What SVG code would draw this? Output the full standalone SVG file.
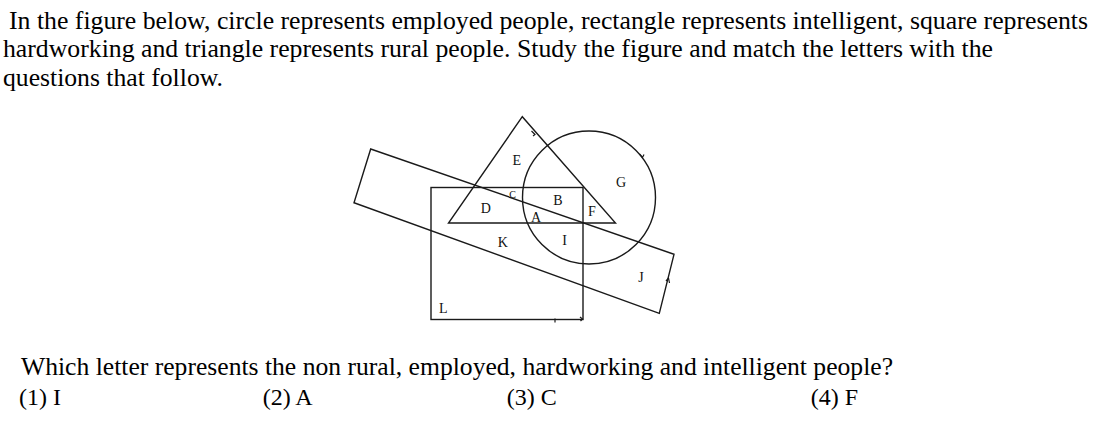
<svg xmlns="http://www.w3.org/2000/svg" width="1120" height="436" viewBox="0 0 1120 436">
<style>
text{font-family:'Liberation Serif','Times New Roman',Times,serif;fill:#000;}
.q{font-size:25.7px;}
.w{font-size:25.6px;}
.b{font-size:24px;}
.lbl{font-size:14px;fill:#111;text-anchor:middle;}
.sh{fill:none;stroke:#1a1a1a;stroke-width:1.4;}
.tk{fill:none;stroke:#1a1a1a;stroke-width:1.2;}
</style>
<rect width="1120" height="436" fill="#fff"/>
<g id="question">
<text class="q" x="9" y="29" textLength="1079" lengthAdjust="spacingAndGlyphs">In the figure below, circle represents employed people, rectangle represents intelligent, square represents</text>
<text class="q" x="3" y="57" textLength="990" lengthAdjust="spacingAndGlyphs">hardworking and triangle represents rural people. Study the figure and match the letters with the</text>
<text class="q" x="3" y="86" textLength="220" lengthAdjust="spacingAndGlyphs">questions that follow.</text>
</g>
<g id="connectors">
<g id="rectangle-intelligent"><polygon class="sh" points="370.7,149 674,254.3 659.3,313.3 354,202.7"/></g>
<g id="square-hardworking"><rect class="sh" x="431" y="187.5" width="152" height="132"/></g>
<g id="triangle-rural"><polygon class="sh" points="522.3,116.7 448.5,223 615.5,223"/></g>
<g id="circle-employed"><circle class="sh" cx="589" cy="197.5" r="66.5"/></g>
<g id="ticks">
<path class="tk" d="M531.5,131 L535,134.5 L533,136"/>
<path class="tk" d="M639.5,154 L642.5,157.5 L644,154.5"/>
<path class="tk" d="M666,281 L668.5,278 L669.5,283"/>
<path class="tk" d="M555,318.5 L555,322.5"/>
<path class="tk" d="M580,317 L582.5,319 L580.5,321"/>
</g>
</g>
<g id="labels">
<text class="lbl" x="516.7" y="165">E</text>
<text class="lbl" x="621" y="187">G</text>
<text class="lbl" x="512.7" y="198" style="font-size:10px">C</text>
<text class="lbl" x="558" y="205">B</text>
<text class="lbl" x="485.7" y="213">D</text>
<text class="lbl" x="536" y="222">A</text>
<text class="lbl" x="592" y="216">F</text>
<text class="lbl" x="502.7" y="247">K</text>
<text class="lbl" x="564.7" y="245">I</text>
<text class="lbl" x="641" y="282">J</text>
<text class="lbl" x="443.3" y="313">L</text>
</g>
<g id="answers">
<text class="w" x="21" y="375" textLength="872" lengthAdjust="spacingAndGlyphs">Which letter represents the non rural, employed, hardworking and intelligent people?</text>
<text class="b" x="19" y="405">(1) I</text>
<text class="b" x="262.7" y="405">(2) A</text>
<text class="b" x="506.7" y="405">(3) C</text>
<text class="b" x="810.7" y="405">(4) F</text>
</g>
</svg>
